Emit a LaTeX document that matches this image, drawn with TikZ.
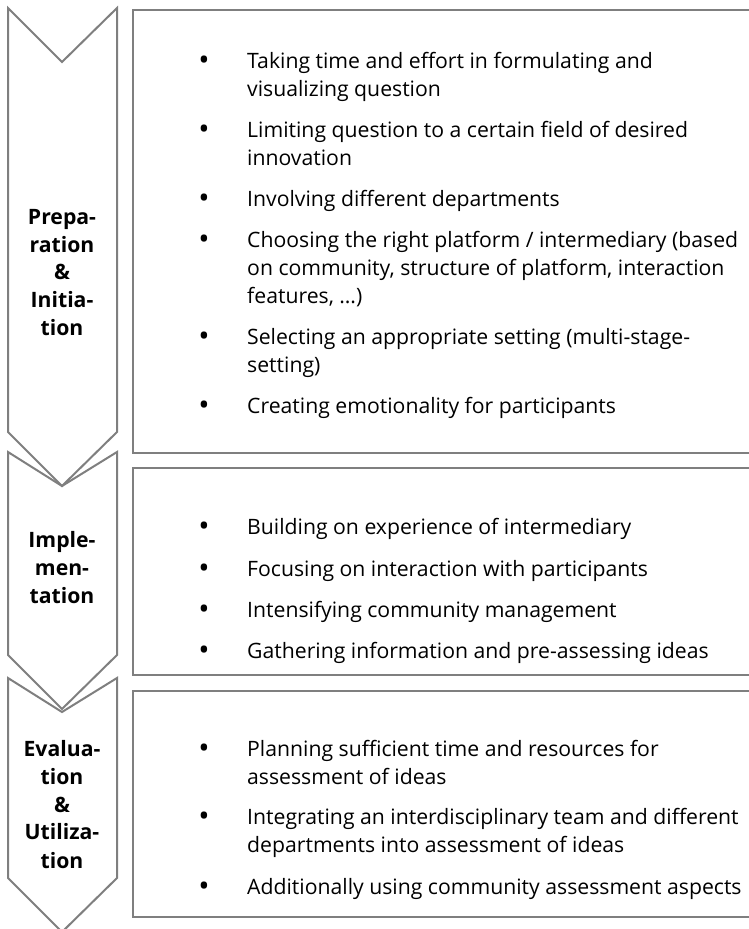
\documentclass[tikz,border=0pt]{standalone}
\usepackage{fontspec}
\setmainfont{Open Sans}
\definecolor{edge}{HTML}{7F7F7F}
\begin{document}
\begin{tikzpicture}[x=1pt,y=-1pt,
  chev/.style={draw=edge,line width=2pt,line join=miter},
  panel/.style={draw=edge,line width=2.6pt},
  item/.style={anchor=base west,inner sep=0pt,font=\fontsize{21.2}{28}\selectfont},
  dot/.style={anchor=base,inner sep=0pt,font=\fontsize{30}{28}\selectfont},
  lab/.style={anchor=base,inner sep=0pt,font=\bfseries\fontsize{21.2}{28}\selectfont}]
\useasboundingbox (0,0) rectangle (749,929);
\clip (0,0) rectangle (749,929);
% chevrons
\draw[chev] (8,8) -- (62,62) -- (117,8) -- (117,432) -- (62,486) -- (8,432) -- cycle;
\draw[chev] (8,452) -- (62,486) -- (117,452) -- (117,655) -- (62,709) -- (8,655) -- cycle;
\draw[chev] (8,678) -- (62,712) -- (117,678) -- (117,878) -- (62,932) -- (8,878) -- cycle;
% panels
\draw[panel] (133,10) rectangle (770,453);
\draw[panel] (133,468) rectangle (770,675);
\draw[panel] (133,691) rectangle (770,917);
% labels
\node[lab] (p1) at (62,224) {Prepa-};
\node[lab] (p2) at (62,252) {ration};
\node[lab] (p3) at (62,279) {\&};
\node[lab] (p4) at (62,307) {Initia-};
\node[lab] (p5) at (62,335) {tion};
\node[lab] (i1) at (62,547) {Imple-};
\node[lab] (i2) at (62,575) {men-};
\node[lab] (i3) at (62,603) {tation};
\node[lab] (e1) at (62,756) {Evalua-};
\node[lab] (e2) at (62,784) {tion};
\node[lab] (e3) at (62,812) {\&};
\node[lab] (e4) at (62,839) {Utiliza-};
\node[lab] (e5) at (62,868) {tion};
% box 1
\node[dot] (b11) at (204,70) {•};
\node[item] (t11a) at (247,68) {Taking time and effort in formulating and};
\node[item] (t11b) at (247,96) {visualizing question};
\node[dot] (b12) at (204,139) {•};
\node[item] (t12a) at (247,137) {Limiting question to a certain field of desired};
\node[item] (t12b) at (247,165) {innovation};
\node[dot] (b13) at (204,208) {•};
\node[item] (t13a) at (247,206) {Involving different departments};
\node[dot] (b14) at (204,249) {•};
\node[item] (t14a) at (247,247) {Choosing the right platform / intermediary (based};
\node[item] (t14b) at (247,275) {on community, structure of platform, interaction};
\node[item] (t14c) at (247,303) {features, …)};
\node[dot] (b15) at (204,346) {•};
\node[item] (t15a) at (247,344) {Selecting an appropriate setting (multi-stage-};
\node[item] (t15b) at (247,372) {setting)};
\node[dot] (b16) at (204,415) {•};
\node[item] (t16a) at (247,413) {Creating emotionality for participants};
% box 2
\node[dot] (b21) at (204,536) {•};
\node[item] (t21a) at (247,534) {Building on experience of intermediary};
\node[dot] (b22) at (204,578) {•};
\node[item] (t22a) at (247,576) {Focusing on interaction with participants};
\node[dot] (b23) at (204,619) {•};
\node[item] (t23a) at (247,617) {Intensifying community management};
\node[dot] (b24) at (204,660) {•};
\node[item] (t24a) at (247,658) {Gathering information and pre-assessing ideas};
% box 3
\node[dot] (b31) at (204,758) {•};
\node[item] (t31a) at (247,756) {Planning sufficient time and resources for};
\node[item] (t31b) at (247,784) {assessment of ideas};
\node[dot] (b32) at (204,826) {•};
\node[item] (t32a) at (247,824) {Integrating an interdisciplinary team and different};
\node[item] (t32b) at (247,852) {departments into assessment of ideas};
\node[dot] (b33) at (204,896) {•};
\node[item] (t33a) at (247,894) {Additionally using community assessment aspects};
\end{tikzpicture}
\end{document}
